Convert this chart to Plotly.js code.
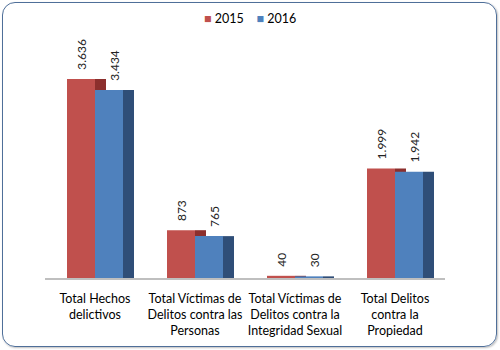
<!DOCTYPE html>
<html><head><meta charset="utf-8">
<script src="https://cdn.plot.ly/plotly-3.0.1.min.js"></script>
<style>
html,body{margin:0;padding:0;background:#fff;}
#wrap{position:relative;width:500px;height:350px;}
#chart{position:absolute;left:0;top:0;width:500px;height:350px;}
#frame{position:absolute;left:2px;top:2px;width:493px;height:343px;border:1.6px solid #4f6f99;border-radius:13px;pointer-events:none;box-shadow:1px 1px 2px rgba(0,0,0,0.25);}
</style></head>
<body>
<div id="wrap"><div id="chart"></div><div id="frame"></div></div>
<script>
const categories = [
  "Total Hechos<br>delictivos",
  "Total Víctimas de<br>Delitos contra las<br>Personas",
  "Total Víctimas de<br>Delitos contra la<br>Integridad Sexual",
  "Total Delitos<br>contra la<br>Propiedad"
];
const values2015 = [3636, 873, 40, 1999];
const values2016 = [3434, 765, 30, 1942];
const seriesNames = ["2015", "2016"];
const seriesColors = ["#c0504d", "#4f81bd"];

const font = "Lato, 'Open Sans', sans-serif";
const W = 0.28, D = 0.11;
const lbl = '\u00a0\u00a0%{y:,}';
const traces = [
  {type:'bar', x:categories, y:values2015, width:D, offset:0, marker:{color:'#8c2f2d'}, showlegend:false, hoverinfo:'skip'},
  {type:'bar', name:seriesNames[0], x:categories, y:values2015, width:W, offset:-W, marker:{color:seriesColors[0]},
   texttemplate:lbl, textposition:'outside', textangle:-90, cliponaxis:false, constraintext:'none',
   textfont:{family:font, size:12, color:'#222'}},
  {type:'bar', name:seriesNames[1], x:categories, y:values2016, width:W, offset:0, marker:{color:seriesColors[1]}},
  {type:'bar', x:categories, y:values2016, width:D, offset:W, marker:{color:'#2f4e78'}, showlegend:false, hoverinfo:'skip'},
  {type:'bar', x:categories, y:values2016, width:W+D, offset:0, marker:{color:'rgba(0,0,0,0)'}, showlegend:false, hoverinfo:'skip',
   texttemplate:lbl, textposition:'outside', textangle:-90, cliponaxis:false, constraintext:'none',
   textfont:{family:font, size:12, color:'#222'}}
];
const legendText = seriesNames.map((n,i)=>"<span style='color:"+seriesColors[i]+"'>■</span> "+n).join("\u00a0\u00a0\u00a0\u00a0");
const layout = {
  width:500, height:350,
  margin:{l:45, r:55, t:59, b:72},
  paper_bgcolor:'#fff', plot_bgcolor:'#fff',
  separators:',.',
  barmode:'overlay',
  font:{family:font, size:12, color:'#000'},
  showlegend:false,
  annotations:[{xref:'paper', yref:'paper', x:0.5125, y:1.187, xanchor:'center', yanchor:'middle',
    text:legendText, showarrow:false, font:{family:font, size:12.5, color:'#000'}}],
  xaxis:{type:'category', range:[-0.5,3.5], showline:true, linecolor:'#bfbfbf', linewidth:1.5,
         ticks:'outside', ticklen:8, tickcolor:'rgba(0,0,0,0)', showgrid:false, zeroline:false, tickangle:0,
         tickfont:{family:font, size:12.5, color:'#000'}},
  yaxis:{range:[0,4000], visible:false, showgrid:false, zeroline:false}
};
Plotly.newPlot('chart', traces, layout, {displayModeBar:false, staticPlot:true});
</script>
</body></html>
